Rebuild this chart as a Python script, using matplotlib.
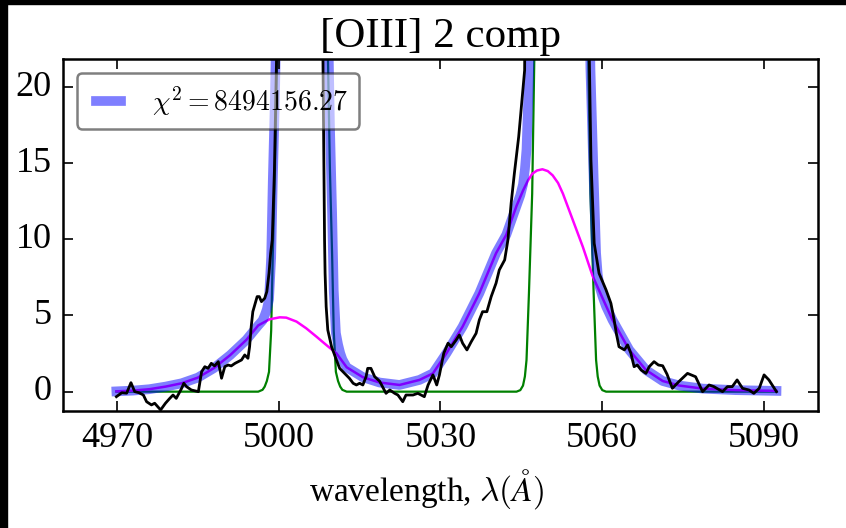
import matplotlib
matplotlib.use("Agg")
import matplotlib.pyplot as plt
from matplotlib.patches import Rectangle

plt.style.use("classic")
plt.rcParams["font.family"] = ["Liberation Serif", "DejaVu Serif"]
plt.rcParams["mathtext.fontset"] = "cm"

# observed spectrum (wavelength in Angstrom, flux)
wav = [4969.9, 4970.9, 4971.8, 4972.6, 4973.3, 4974.1, 4974.9, 4975.5, 4976.4, 4977.0,
       4978.1, 4979.0, 4979.8, 4980.4, 4981.0, 4982.0, 4982.4, 4982.9, 4983.8, 4985.1,
       4985.7, 4986.3, 4986.9, 4987.5, 4988.1, 4988.8, 4989.4, 4990.0, 4990.6, 4991.2,
       4991.9, 4992.5, 4993.1, 4993.7, 4994.3, 4994.6, 4994.9, 4995.2, 4996.0, 4996.4,
       4996.8, 4997.4, 4997.8, 4998.2, 4998.5, 4998.8, 4999.2, 4999.6, 5000.5, 5004.5,
       5007.5, 5008.2, 5008.5, 5008.6, 5008.8, 5009.1, 5009.8, 5010.7, 5011.3, 5012.2,
       5013.1, 5013.8, 5014.4, 5015.0, 5015.6, 5016.2, 5016.5, 5017.1, 5017.8, 5018.7,
       5019.9, 5020.6, 5021.5, 5022.1, 5023.0, 5023.6, 5024.9, 5025.8, 5026.4, 5027.0,
       5027.7, 5028.6, 5029.3, 5029.8, 5030.6, 5031.4, 5032.0, 5032.9, 5033.5, 5034.1,
       5034.9, 5035.7, 5036.6, 5037.2, 5037.8, 5038.6, 5039.4, 5040.3, 5040.9, 5041.9,
       5042.5, 5043.1, 5043.7, 5044.5, 5045.1, 5045.6, 5046.3, 5052.5, 5057.0, 5057.6,
       5057.9, 5058.5, 5059.4, 5060.7, 5061.6, 5062.2, 5062.6, 5063.1, 5064.1, 5064.7,
       5065.3, 5065.9, 5066.5, 5067.2, 5068.1, 5068.7, 5069.6, 5070.4, 5071.2, 5072.0,
       5073.0, 5074.2, 5075.8, 5077.3, 5078.6, 5079.8, 5080.7, 5082.3, 5083.2, 5084.1,
       5085.0, 5086.0, 5087.2, 5088.1, 5089.1, 5090.0, 5090.9, 5092.3]
flux = [-0.33, -0.07, -0.10, 0.59, 0.00, -0.07, -0.22, -0.66, -0.87, -0.76,
        -1.20, -0.76, -0.44, -0.22, -0.44, 0.22, 0.55, 0.33, 0.11, 0.00,
        1.31, 1.64, 1.53, 1.86, 1.69, 1.97, 0.88, 1.64, 1.75, 1.69,
        1.86, 1.97, 2.08, 2.41, 2.19, 2.95, 4.27, 5.25, 6.24, 6.24,
        5.91, 6.13, 6.57, 7.77, 9.09, 9.96, 14.5, 21.9, 90.0, 900.0,
        90.0, 22.0, 9.96, 7.77, 5.58, 4.05, 2.95, 2.08, 1.53, 1.20,
        0.88, 0.55, 0.44, 0.55, 0.44, 0.98, 1.53, 1.53, 0.98, 0.69,
        -0.11, 0.11, -0.11, -0.22, -0.66, -0.22, -0.22, -0.11, -0.22, -0.33,
        0.44, 1.10, 0.44, 1.10, 2.52, 3.18, 2.95, 3.39, 3.72, 3.18,
        2.74, 3.28, 3.83, 4.71, 5.25, 5.25, 6.24, 7.12, 7.99, 8.65,
        9.96, 12.37, 14.34, 16.74, 19.15, 21.1, 60.0, 2500.0, 60.0, 21.8,
        15.2, 9.74, 7.77, 6.68, 5.80, 4.71, 3.83, 2.95, 2.74, 3.07,
        2.52, 1.64, 1.75, 1.42, 1.20, 1.64, 1.97, 1.75, 1.70, 1.15,
        0.22, 0.66, 1.20, 0.98, 0.00, 0.44, 0.33, 0.00, 0.33, 0.33,
        0.77, 0.22, 0.11, -0.11, 0.22, 1.10, 0.77, 0.00]

# narrow component
nar_x = [4969.9, 4996.2, 4997.0, 4997.4, 4997.8, 4998.2, 4998.6, 4998.9, 4999.3, 4999.7,
         5000.5, 5004.4, 5008.3, 5009.1, 5009.5, 5009.9, 5010.2, 5010.6, 5011.0, 5011.4,
         5011.8, 5012.6, 5044.1, 5044.8, 5045.3, 5045.65, 5045.95, 5046.4, 5047.0, 5047.4,
         5048.4, 5052.4, 5056.4, 5057.4, 5057.8, 5058.4, 5058.85, 5059.15, 5059.5, 5060.0,
         5060.7, 5092.3]
nar_y = [0.0, 0.0, 0.12, 0.33, 0.7, 1.3, 4.0, 9.0, 14.5, 22.5,
         100.0, 1000.0, 100.0, 22.5, 14.5, 9.0, 4.0, 1.3, 0.7, 0.33,
         0.12, 0.0, 0.0, 0.1, 0.4, 1.0, 2.08, 6.46, 13.0, 22.0,
         150.0, 3000.0, 150.0, 22.0, 13.0, 6.46, 2.08, 1.0, 0.4, 0.1,
         0.0, 0.0]

# broad component
brd_x = [4969.9, 4973.0, 4976.0, 4979.0, 4982.0, 4985.0, 4988.0, 4991.0, 4994.0, 4996.2,
         4998.3, 5000.2, 5001.4, 5003.3, 5005.1, 5007.0, 5008.8, 5010.7, 5012.6, 5015.6,
         5018.7, 5022.4, 5026.1, 5028.6, 5031.1, 5034.1, 5037.2, 5040.3, 5042.2, 5044.1,
         5045.3, 5046.2, 5047.0, 5047.9, 5048.9, 5049.9, 5050.8, 5051.8, 5052.7, 5054.5,
         5056.4, 5058.2, 5060.1, 5061.9, 5065.0, 5068.1, 5071.2, 5074.3, 5078.6, 5084.7,
         5092.3]
brd_y = [0.02, 0.07, 0.16, 0.33, 0.55, 0.92, 1.55, 2.4, 3.4, 4.35,
         4.75, 4.88, 4.86, 4.6, 4.16, 3.61, 3.07, 2.52, 1.6, 0.95,
         0.6, 0.44, 0.77, 1.2, 2.52, 4.27, 6.46, 9.09, 10.3, 12.2,
         13.2, 13.85, 14.3, 14.52, 14.6, 14.48, 14.2, 13.7, 13.0, 11.3,
         9.5, 7.6, 6.1, 4.7, 2.74, 1.42, 0.7, 0.4, 0.2, 0.1,
         0.05]

# total model
tot_x = [4969.9, 4973.0, 4976.0, 4979.0, 4982.0, 4985.0, 4988.0, 4991.0, 4994.0, 4996.2,
         4997.0, 4997.4, 4997.8, 4998.2, 4998.6, 4998.9, 4999.3, 4999.7, 5000.5, 5004.4,
         5008.3, 5009.1, 5009.5, 5009.9, 5010.2, 5010.6, 5011.0, 5011.4, 5011.8, 5012.6,
         5015.6, 5018.7, 5022.4, 5026.1, 5028.6, 5031.1, 5034.1, 5037.2, 5040.3, 5042.2,
         5044.1, 5044.8, 5045.3, 5045.65, 5045.95, 5046.4, 5047.0, 5047.4, 5048.4, 5052.4,
         5056.4, 5057.4, 5057.8, 5058.4, 5058.85, 5059.15, 5059.5, 5060.0, 5060.7, 5061.9,
         5065.0, 5068.1, 5071.2, 5074.3, 5078.6, 5084.7, 5092.3]
tot_y = [0.02, 0.07, 0.16, 0.33, 0.55, 0.92, 1.55, 2.4, 3.4, 4.35,
         4.67, 5.0, 5.4, 6.05, 8.8, 13.8, 19.35, 27.4, 104.9, 1004.5,
         103.2, 25.5, 17.4, 11.75, 6.65, 3.85, 3.1, 2.53, 2.12, 1.6,
         0.95, 0.6, 0.44, 0.77, 1.2, 2.52, 4.27, 6.46, 9.09, 10.3,
         12.2, 12.9, 13.6, 14.6, 15.9, 20.56, 27.3, 36.5, 164.5, 3013.0,
         159.6, 30.6, 21.2, 14.0, 9.1, 7.7, 6.9, 6.3, 5.6, 4.7,
         2.74, 1.42, 0.7, 0.4, 0.2, 0.1, 0.05]

chi2_label = r"$\chi^2 = 8494156.27$"

fig = plt.figure(figsize=(8.46, 5.28), dpi=100, facecolor="w")
ax = fig.add_axes([63 / 846, 117 / 528, 755 / 846, 352 / 528])

ax.plot(nar_x, nar_y, color="g", lw=1.6)
ax.plot(brd_x, brd_y, color="#ff00ff", lw=1.8)
ax.plot(tot_x, tot_y, color="b", lw=7, alpha=0.5, label=chi2_label)
ax.plot(wav, flux, color="k", lw=2)

ax.set_xlim(4960, 5100)
ax.set_ylim(-1.27, 21.84)
ax.set_xticks([4970, 5000, 5030, 5060, 5090])
ax.set_yticks([0, 5, 10, 15, 20])
ax.tick_params(direction="in", length=7, width=1.2, top=True, right=True,
               labelsize=26, pad=8)
for sp in ax.spines.values():
    sp.set_linewidth(1.8)

ax.set_title("[OIII] 2 comp", fontsize=31, pad=9)
ax.set_xlabel(r"wavelength, $\lambda(\AA)$", fontsize=24)
ax.xaxis.set_label_coords(0.481, -0.16)

leg = ax.legend(loc="upper left", fontsize=20, handlelength=1.5,
                fancybox=True, framealpha=0.5)
leg.get_frame().set_edgecolor("k")
leg.get_frame().set_linewidth(1.8)

# dark strips along the top and left edges
fig.patches.append(Rectangle((0, 0), 7 / 846, 1, transform=fig.transFigure,
                             color="k", zorder=10))
fig.patches.append(Rectangle((0, 1 - 4 / 528), 1, 4 / 528, transform=fig.transFigure,
                             color="k", zorder=10))

fig.savefig("out.png", dpi=100, facecolor="w")
